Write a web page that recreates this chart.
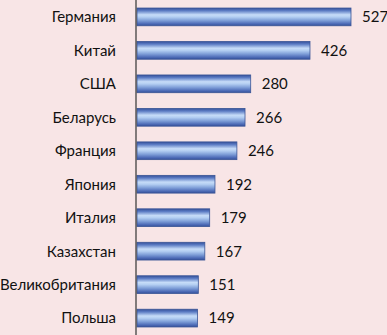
<!DOCTYPE html>
<html>
<head>
<meta charset="utf-8">
<script src="https://cdn.jsdelivr.net/npm/d3@7"></script>
<style>
  body { margin: 0; background: #f8e5e6; }
  svg { display: block; }
</style>
</head>
<body>
<div id="chart"></div>
<script>
const countries = ['Германия', 'Китай', 'США', 'Беларусь', 'Франция', 'Япония', 'Италия', 'Казахстан', 'Великобритания', 'Польша']
const values = [527, 426, 280, 266, 246, 192, 179, 167, 151, 149]

const width = 387
const height = 335
const margin = { top: 0, left: 136, right: 0, bottom: 0 }

const svg = d3
  .select('#chart')
  .append('svg')
  .attr('width', width)
  .attr('height', height)

const defs = svg.append('defs')
const grad = defs
  .append('linearGradient')
  .attr('id', 'barGrad')
  .attr('x1', 0)
  .attr('y1', 0)
  .attr('x2', 0)
  .attr('y2', 1)
const stops = [
  [0, '#34509a'],
  [0.15, '#5c7cc4'],
  [0.38, '#c6dcf8'],
  [0.5, '#b4cff2'],
  [0.7, '#7f9fd8'],
  [0.88, '#4f6db8'],
  [1, '#34509a']
]
stops.forEach(s => grad.append('stop').attr('offset', s[0]).attr('stop-color', s[1]))

const xPositionScale = d3
  .scaleLinear()
  .domain([0, 527])
  .range([margin.left + 1, margin.left + 215])

const yPositionScale = d3
  .scaleBand()
  .domain(countries)
  .range([0, height])
  .paddingInner(0.47)
  .paddingOuter(0.24)

const data = countries.map((c, i) => ({ country: c, value: values[i] }))

svg
  .selectAll('.bar')
  .data(data)
  .enter()
  .append('rect')
  .attr('class', 'bar')
  .attr('x', xPositionScale(0))
  .attr('y', d => yPositionScale(d.country))
  .attr('width', d => xPositionScale(d.value) - xPositionScale(0))
  .attr('height', yPositionScale.bandwidth())
  .attr('fill', 'url(#barGrad)')
  .attr('stroke', '#3a5596')
  .attr('stroke-width', 0.8)

// value labels
svg
  .selectAll('.val')
  .data(data)
  .enter()
  .append('text')
  .attr('class', 'val')
  .attr('x', d => xPositionScale(d.value) + 11)
  .attr('y', d => yPositionScale(d.country) + yPositionScale.bandwidth() / 2)
  .attr('dy', '0.36em')
  .attr('font-family', 'Lato, "Open Sans", sans-serif')
  .attr('font-size', '15px')
  .attr('fill', '#111')
  .text(d => d.value)

// category labels
svg
  .selectAll('.cat')
  .data(data)
  .enter()
  .append('text')
  .attr('class', 'cat')
  .attr('x', margin.left - 20)
  .attr('y', d => yPositionScale(d.country) + yPositionScale.bandwidth() / 2)
  .attr('dy', '0.36em')
  .attr('text-anchor', 'end')
  .attr('font-family', 'Lato, "Open Sans", sans-serif')
  .attr('font-size', '15px')
  .attr('fill', '#111')
  .text(d => d.country)

// axis line
svg
  .append('line')
  .attr('x1', margin.left)
  .attr('x2', margin.left)
  .attr('y1', 0)
  .attr('y2', height)
  .attr('stroke', '#333')
  .attr('stroke-width', 1.2)
</script>
</body>
</html>
